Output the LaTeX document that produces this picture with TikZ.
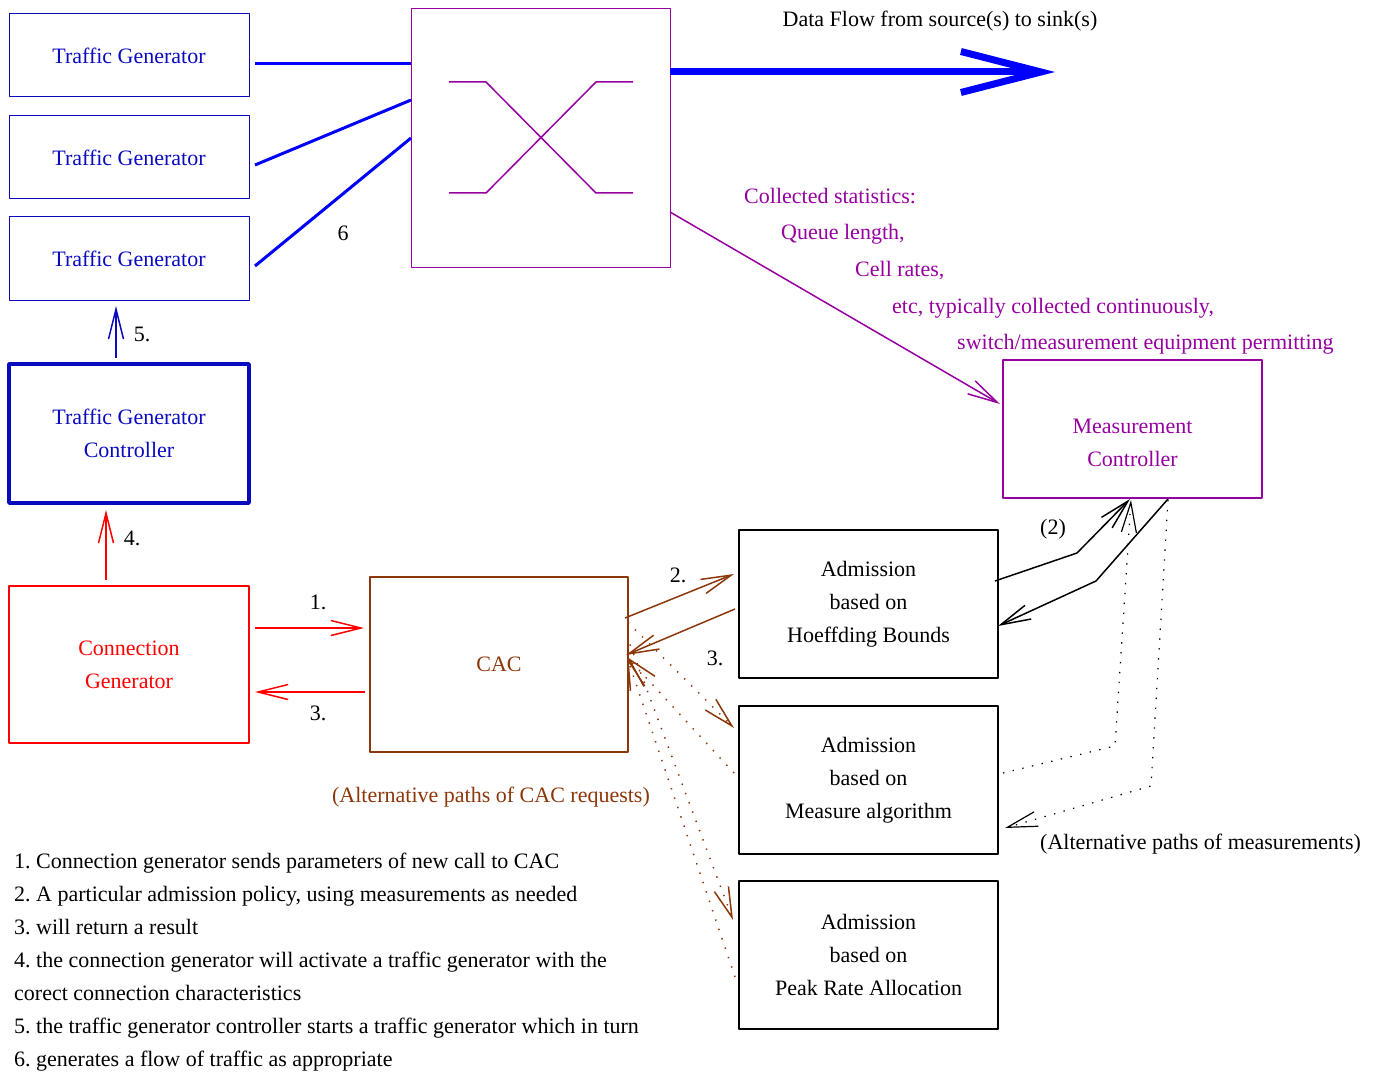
\documentclass[tikz,border=0pt]{standalone}
\usepackage{fontspec}
\setmainfont{Liberation Serif}
\usetikzlibrary{arrows.meta,calc}

\definecolor{tgblue}{RGB}{10,10,190}
\definecolor{swpurple}{RGB}{150,0,160}
\definecolor{cacbrown}{RGB}{140,55,10}

\tikzset{
  blk/.style={draw,inner sep=0pt,outer sep=0pt,align=center,line width=1.2pt},
  tgbox/.style={blk,draw=tgblue,text=tgblue,line width=1pt,minimum width=240pt,minimum height=83pt},
  admbox/.style={blk,minimum width=259pt,minimum height=148pt},
  dotline/.style={dash pattern=on 1.4pt off 8.5pt},
  lbl/.style={inner sep=0pt}
}

\begin{document}
\frenchspacing
\begin{tikzpicture}[x=1pt,y=-1pt,line join=round,>={Straight Barb[length=30pt,width=15pt]},
    font=\fontsize{22}{33}\selectfont]
  \useasboundingbox (0,0) rectangle (1375,1075);

  % traffic generators and the switch
  \node[tgbox] (tg1) at (129,55.5) {Traffic Generator};
  \node[tgbox] (tg2) at (129,157.5) {Traffic Generator};
  \node[tgbox] (tg3) at (129,258.5) {Traffic Generator};
  \node[blk,draw=swpurple,line width=1pt,minimum width=259pt,minimum height=258pt] (sw) at (540.5,138) {};
  \draw[swpurple,line width=1.5pt] (449,82) -- (486,82) -- (596,193) -- (633,193);
  \draw[swpurple,line width=1.5pt] (449,193) -- (486,193) -- (596,82) -- (633,82);

  \draw[blue,line width=3pt] ($(tg1.east)+(6,8.5)$) -- ($(sw.west)+(0,-74)$);
  \draw[blue,line width=3pt] ($(tg2.east)+(6,7.5)$) -- ($(sw.west)+(0,-38)$);
  \draw[blue,line width=3pt] ($(tg3.east)+(6,7.5)$) -- (sw.west);
  \node[lbl] (six) at (343,233) {6};

  \coordinate (sink) at (1055,72);
  \draw[blue,line width=7pt,-{Straight Barb[length=80pt,width=41pt]}] ($(sw.east)+(0,-66)$) -- (sink);
  \node[lbl] (flowlbl) at (940,21) {Data Flow from source(s) to sink(s)};

  % measurement controller
  \node[blk,draw=swpurple,line width=1.5pt,minimum width=259pt,minimum height=138pt] (mc) at (1132.5,429) {};
  \node[lbl,text=swpurple,align=center] (mclbl) at ($(mc.center)+(0,14)$) {Measurement\\Controller};
  \draw[swpurple,line width=1.5pt,->] ($(sw.east)+(0,74)$) -- ($(mc.west)+(-3,-25)$);
  \begin{scope}[swpurple]
    \node[lbl,anchor=west] (st1) at (744,196) {Collected statistics:};
    \node[lbl,anchor=west] (st2) at (781,234) {Queue length,};
    \node[lbl,anchor=west] (st3) at (855,271) {Cell rates,};
    \node[lbl,anchor=west] (st4) at (892,308) {etc, typically collected continuously,};
    \node[lbl,anchor=west] (st5) at (957,344) {switch/measurement equipment permitting};
  \end{scope}

  % controllers and CAC
  \node[blk,draw=tgblue,text=tgblue,line width=3.5pt,minimum width=240pt,minimum height=139pt] (tgc) at (129,433.5) {Traffic Generator\\Controller};
  \node[blk,draw=red,text=red,line width=1.5pt,minimum width=240pt,minimum height=157pt] (cg) at (129,664.5) {Connection\\Generator};
  \node[blk,draw=cacbrown,text=cacbrown,line width=1.8pt,minimum width=258pt,minimum height=175pt] (cac) at (499,664.5) {CAC};

  \draw[tgblue,line width=1.5pt,->] ($(tgc.north)+(-13,-6)$) -- ($(tg3.south)+(-13,6)$);
  \node[lbl] (n5) at (142,334) {5.};
  \draw[red,line width=1.5pt,->] ($(cg.north)+(-23,-6)$) -- ($(tgc.south)+(-23,7)$);
  \node[lbl] (n4) at (132,538) {4.};
  \draw[red,line width=1.5pt,->] ($(cg.east)+(6,-36.5)$) -- ($(cac.west)+(-6,-36.5)$);
  \node[lbl] (n1) at (318,602) {1.};
  \draw[red,line width=1.5pt,->] ($(cac.west)+(-5,27.5)$) -- ($(cg.east)+(6,27.5)$);
  \node[lbl] (n3) at (318,713) {3.};

  % admission policies
  \node[admbox] (a1) at (868.5,604) {Admission\\based on\\Hoeffding Bounds};
  \node[admbox] (a2) at (868.5,780) {Admission\\based on\\Measure algorithm};
  \node[admbox] (a3) at (868.5,955) {Admission\\based on\\Peak Rate Allocation};

  \begin{scope}[cacbrown,line width=1.5pt]
    \draw[->] ($(cac.east)+(-3,-46.5)$) -- ($(a1.west)+(-5,-30)$);
    \draw[->] ($(a1.west)+(-4,5)$) -- ($(cac.east)+(-2,-9.5)$);
    \draw[->,dotline] ($(cac.east)+(0,-42)$) -- ($(a2.west)+(-5,-52)$);
    \draw[->,dotline] ($(a2.west)+(-5,-7)$) -- ($(cac.east)+(-1,-7.5)$);
    \draw[->,dotline] ($(cac.east)+(2,-20)$) -- ($(a3.west)+(-6,-35)$);
    \draw[->,dotline] ($(a3.west)+(-4,22)$) -- ($(cac.east)+(-1,-7.5)$);
  \end{scope}
  \node[lbl] (n2) at (678,575) {2.};
  \node[lbl] (n3b) at (715,658) {3.};
  \node[lbl,text=cacbrown] (altcac) at (491,797) {(Alternative paths of CAC requests)};

  % measurements
  \draw[line width=1.5pt,->] ($(a1.east)+(-3,-23)$) -- ++(82,-28) -- ($(mc.south)+(-2.5,1)$);
  \draw[line width=1.5pt,->] ($(mc.south)+(35.5,1)$) -- ++(-72,82) -- ($(a1.east)+(0,22)$);
  \draw[line width=1.2pt,dotline,->] ($(a2.east)+(5,-7)$) -- ++(112,-27) -- ($(mc.south)+(-1.5,2)$);
  \draw[line width=1.2pt,dotline,->] ($(mc.south)+(35.5,2)$) -- ++(-17,286) -- ($(a2.east)+(7,48)$);
  \node[lbl] (n2b) at (1053,529) {(2)};
  \node[lbl,anchor=west] (altmeas) at (1040,844) {(Alternative paths of measurements)};

  % legend
  \node[lbl,anchor=north west,align=left] (legend) at (14,853) {1. Connection generator sends parameters of new call to CAC\\
    2. A particular admission policy, using measurements as needed\\
    3. will return a result\\
    4. the connection generator will activate a traffic generator with the\\
    corect connection characteristics\\
    5. the traffic generator controller starts a traffic generator which in turn\\
    6. generates a flow of traffic as appropriate};
\end{tikzpicture}
\end{document}
